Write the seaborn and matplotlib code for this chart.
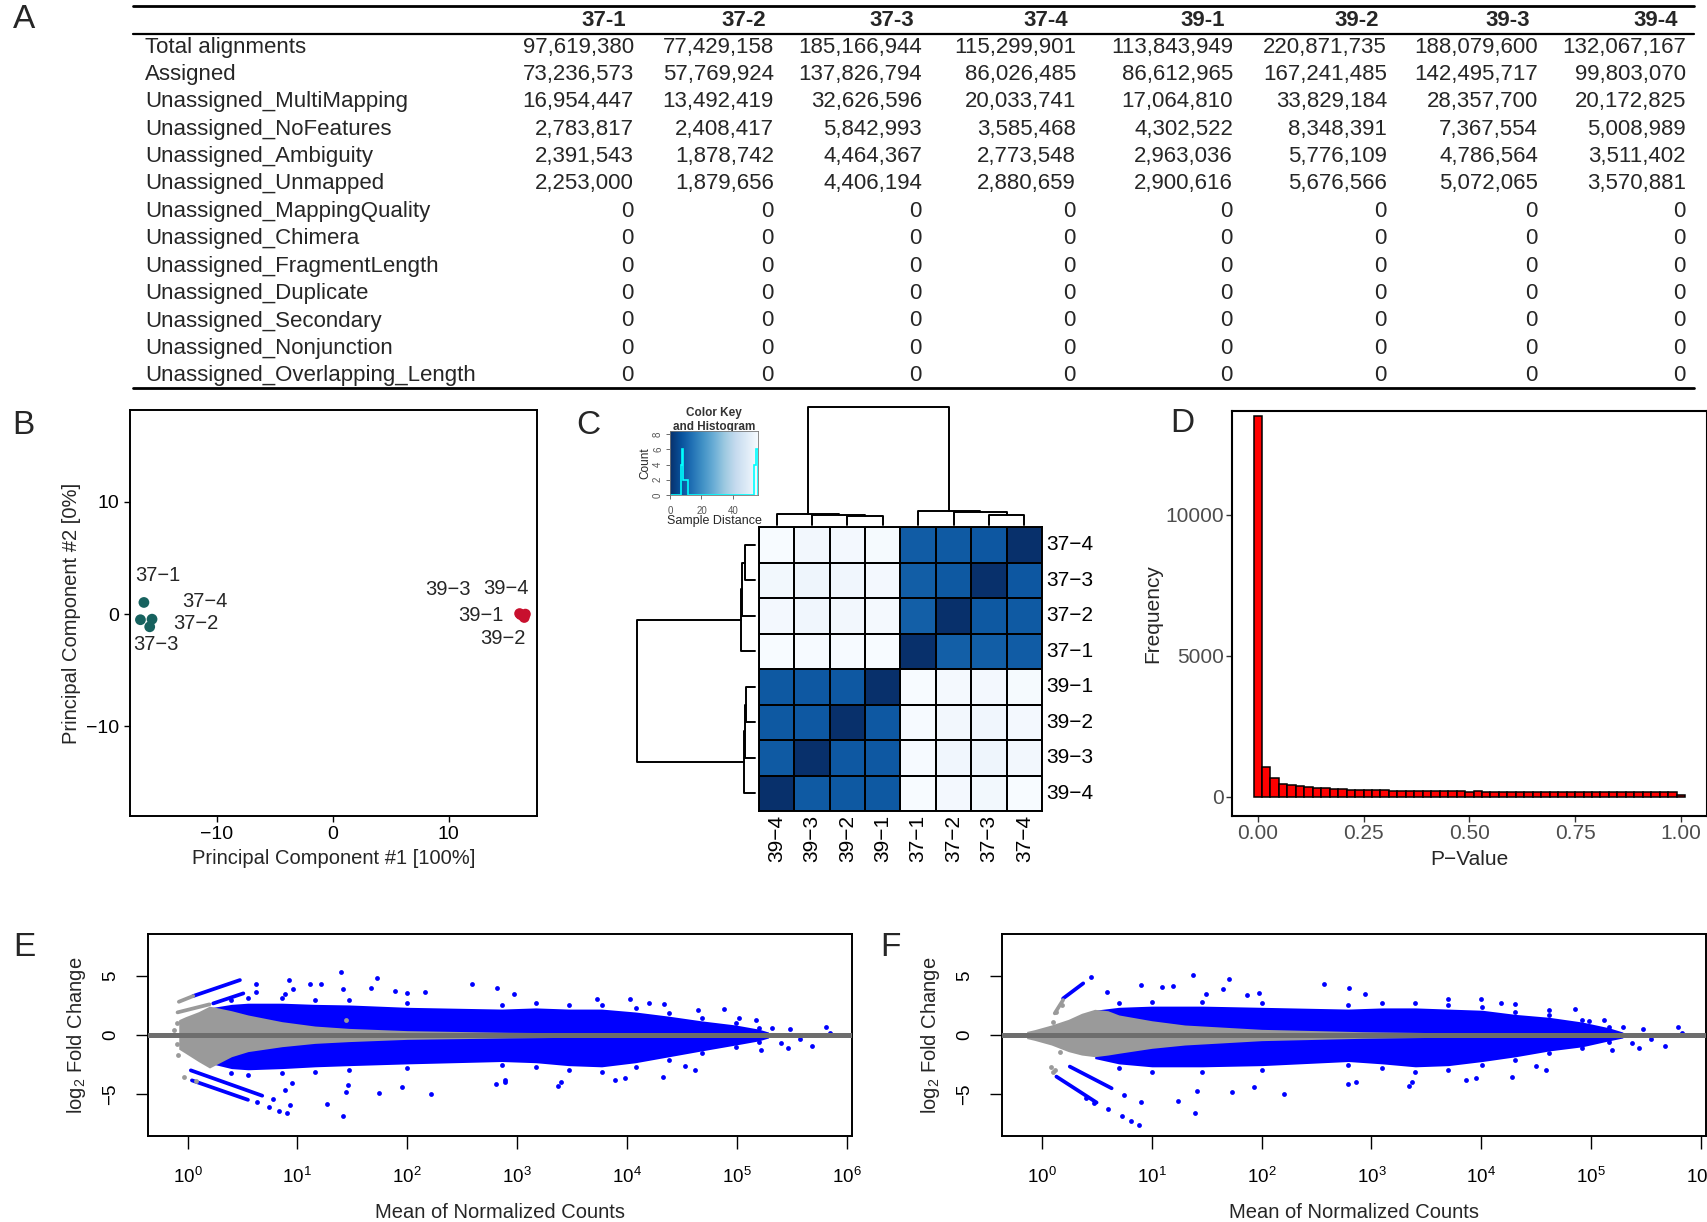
import numpy as np
import pandas as pd
import seaborn as sns
import matplotlib.pyplot as plt
from matplotlib.ticker import NullLocator

# ---------------- data ----------------
# A: featureCounts summary
row_names = ['Total alignments', 'Assigned', 'Unassigned_MultiMapping', 'Unassigned_NoFeatures',
             'Unassigned_Ambiguity', 'Unassigned_Unmapped', 'Unassigned_MappingQuality',
             'Unassigned_Chimera', 'Unassigned_FragmentLength', 'Unassigned_Duplicate',
             'Unassigned_Secondary', 'Unassigned_Nonjunction', 'Unassigned_Overlapping_Length']
samples = ['37-1', '37-2', '37-3', '37-4', '39-1', '39-2', '39-3', '39-4']
zero_rows = [0, 0, 0, 0, 0, 0, 0]
reads_37_1 = [97619380, 73236573, 16954447, 2783817, 2391543, 2253000] + zero_rows
reads_37_2 = [77429158, 57769924, 13492419, 2408417, 1878742, 1879656] + zero_rows
reads_37_3 = [185166944, 137826794, 32626596, 5842993, 4464367, 4406194] + zero_rows
reads_37_4 = [115299901, 86026485, 20033741, 3585468, 2773548, 2880659] + zero_rows
reads_39_1 = [113843949, 86612965, 17064810, 4302522, 2963036, 2900616] + zero_rows
reads_39_2 = [220871735, 167241485, 33829184, 8348391, 5776109, 5676566] + zero_rows
reads_39_3 = [188079600, 142495717, 28357700, 7367554, 4786564, 5072065] + zero_rows
reads_39_4 = [132067167, 99803070, 20172825, 5008989, 3511402, 3570881] + zero_rows
table = pd.DataFrame(dict(zip(samples, [reads_37_1, reads_37_2, reads_37_3, reads_37_4,
                                        reads_39_1, reads_39_2, reads_39_3, reads_39_4])),
                     index=row_names)

# B: PCA
pc1 = [-16.3, -15.8, -16.6, -15.6, 16.2, 16.5, 16.1, 16.6]
pc2 = [1.04, -1.13, -0.5, -0.45, -0.05, -0.3, 0.05, 0.0]
temp_group = ['37', '37', '37', '37', '39', '39', '39', '39']

# C: sample distances
dist_37 = [[0, 10.2, 10.0, 9.5],
           [10.2, 0, 8.8, 9.0],
           [10.0, 8.8, 0, 8.5],
           [9.5, 9.0, 8.5, 0]]
dist_39 = [[0, 8.6, 8.7, 8.8],
           [8.6, 0, 8.7, 8.9],
           [8.7, 8.7, 0, 9.0],
           [8.8, 8.9, 9.0, 0]]
dist_cross = [[55.9, 55.6, 55.5, 55.7],   # 37-1 vs 39-1..39-4
              [55.0, 54.2, 53.8, 54.8],
              [54.8, 53.8, 53.4, 54.5],
              [55.4, 54.6, 54.3, 55.9]]
row_order = ['37-4', '37-3', '37-2', '37-1', '39-1', '39-2', '39-3', '39-4']
col_order = ['39-4', '39-3', '39-2', '39-1', '37-1', '37-2', '37-3', '37-4']
# dendrogram merges: (left, right, height); mK is the K-th merge
dendro_merges = [('39-2', '39-1', 27.5), ('39-3', 'm0', 30), ('39-4', 'm1', 32),
                 ('37-3', '37-4', 30.5), ('37-2', 'm3', 37.5), ('37-1', 'm4', 42.5),
                 ('m2', 'm5', 353)]
key_edges = [0, 6.7, 7.6, 8.2, 11.2, 53.3, 54.7, 55.8]
key_counts = [0, 4, 6, 2, 0, 4, 6]

# D: p-value histogram (binwidth 0.02, centred on 0)
pvalue_counts = [13490, 1040, 675, 440, 415, 380, 330, 320, 295, 285, 260, 250, 250, 250, 235,
                 225, 200, 215, 200, 200, 200, 215, 200, 200, 190, 180, 190, 180, 180, 165,
                 180, 165, 180, 165, 170, 170, 170, 165, 155, 165, 170, 155, 170, 170, 165,
                 165, 160, 165, 165, 160, 70]

# E: MA plot 1 (x = log10 mean count)
e_gray_x = [-0.08, -0.02, 0.10, 0.20, 0.40, 0.55, 0.86, 1.16, 1.47, 2.0, 2.92, 4.0, 5.0, 5.9]
e_gray_hi = [1.3, 1.55, 1.98, 2.45, 2.06, 1.7, 1.13, 0.76, 0.56, 0.37, 0.23, 0.15, 0.12, 0.1]
e_gray_lo = [-1.2, -1.55, -2.26, -2.8, -1.84, -1.41, -0.99, -0.71, -0.56, -0.37, -0.25, -0.15, -0.12, -0.1]
e_blue_x = [0.20, 0.40, 0.55, 0.86, 1.16, 1.47, 2.0, 2.86, 3.17, 3.47, 3.77, 4.08, 4.38, 4.68, 4.99, 5.2, 5.29]
e_blue_hi = [2.3, 2.6, 2.7, 2.7, 2.6, 2.55, 2.35, 2.2, 2.3, 2.2, 2.2, 1.95, 1.6, 1.2, 0.85, 0.5, 0.25]
e_blue_lo = [-2.4, -2.85, -2.95, -2.85, -2.7, -2.6, -2.45, -2.25, -2.35, -2.6, -2.7, -2.35, -1.85,
             -1.35, -0.85, -0.5, -0.25]
e_up_x = [1.398, 1.726, 0.924, 1.213, 2.59, 0.62, 1.116, 2.818, 1.413, 1.672, 0.957, 0.623, 1.89, 0.888, 2.0, 2.16]
e_up_y = [5.31, 4.86, 4.69, 4.32, 4.29, 4.32, 4.32, 4.01, 3.87, 3.95, 3.87, 3.62, 3.76, 3.45, 3.53, 3.67]
e_down_x = [1.413, 1.267, 0.903, 0.833, 0.745, 0.629, 2.219, 1.745, 1.441, 1.951, 2.81, 0.933, 0.781,
            0.888, 0.948, 1.465, 2.888]
e_down_y = [-6.89, -5.85, -6.64, -6.41, -6.07, -5.68, -5.0, -4.89, -4.83, -4.43, -4.15, -5.93, -5.42,
            -4.66, -4.1, -4.24, -3.81]
e_right_x = [2.97, 4.025, 3.73, 4.88, 4.65, 4.2, 4.34, 5.02, 5.18, 5.32, 5.49, 5.81, 5.85, 5.4, 5.47,
             5.58, 5.69, 5.22, 4.53, 4.62, 3.37, 3.4, 2.89, 3.89, 4.33, 3.98]
e_right_y = [3.47, 3.08, 3.08, 2.23, 2.15, 2.68, 2.6, 1.41, 1.27, 0.62, 0.54, 0.65, 0.2, -0.71, -1.13,
             -0.37, -0.9, -1.27, -2.63, -2.97, -4.29, -3.95, -3.95, -3.81, -3.53, -3.67]
e_edge_x = [0.40, 0.55, 0.86, 1.16, 1.47, 2.0, 2.86, 3.17, 3.47, 3.77, 4.08, 4.38, 4.68, 4.99, 5.2]
e_edge_hi = [2.97, 3.1, 3.1, 2.97, 2.97, 2.68, 2.54, 2.68, 2.54, 2.54, 2.26, 1.84, 1.41, 0.99, 0.56]
e_edge_lo = [-3.25, -3.39, -3.25, -3.1, -2.97, -2.82, -2.54, -2.68, -2.97, -3.1, -2.68, -2.12, -1.55, -0.99, -0.56]
e_grayout_x = [-0.10, -0.12, -0.10, -0.09, -0.03, 1.44, 0.08, -0.055]
e_grayout_y = [1.0, 0.4, -0.8, -1.7, -3.53, 1.3, -3.9, 1.13]
e_blue_stripes = [(0.052, 0.477, 3.31, 4.66), (0.234, 0.508, 2.68, 3.53),
                  (0.03, 0.68, -3.0, -5.15), (0.04, 0.55, -3.85, -5.5)]
e_gray_stripes = [(-0.079, 0.052, 2.82, 3.31), (-0.091, 0.2, 1.92, 2.6)]

# F: MA plot 2
f_gray_x = [-0.14, -0.07, 0.085, 0.24, 0.36, 0.48, 0.6, 0.7, 1.0, 1.3, 2.0, 2.92, 4.0, 5.0, 5.9]
f_gray_hi = [0.3, 0.45, 0.85, 1.33, 1.84, 2.18, 2.06, 1.7, 1.21, 0.85, 0.48, 0.28, 0.15, 0.12, 0.1]
f_gray_lo = [-0.3, -0.45, -0.85, -1.41, -1.7, -1.84, -1.7, -1.55, -1.13, -0.85, -0.48, -0.28, -0.15, -0.12, -0.1]
f_blue_x = [0.48, 0.7, 1.0, 1.46, 2.0, 2.79, 3.1, 3.4, 3.7, 4.01, 4.31, 4.62, 4.92, 5.16, 5.29]
f_blue_hi = [2.1, 2.35, 2.45, 2.45, 2.35, 2.2, 2.3, 2.3, 2.2, 2.1, 1.75, 1.5, 1.1, 0.62, 0.25]
f_blue_lo = [-2.0, -2.45, -2.7, -2.7, -2.6, -2.25, -2.45, -2.7, -2.6, -2.25, -1.85, -1.35, -1.0, -0.5, -0.25]
f_up_x = [0.445, 1.372, 1.704, 0.902, 2.57, 2.8, 1.19, 1.09, 0.595, 1.65, 1.49, 1.87, 1.98]
f_up_y = [4.92, 5.11, 4.75, 4.24, 4.29, 4.01, 4.12, 4.04, 3.62, 3.9, 3.47, 3.36, 3.53]
f_down_x = [0.884, 0.811, 0.726, 0.604, 1.39, 1.238, 0.902, 2.2, 1.726, 1.415, 1.93, 2.79, 0.75, 0.476, 0.405]
f_down_y = [-7.63, -7.32, -6.86, -6.3, -6.64, -5.59, -5.71, -4.97, -4.83, -4.72, -4.38, -4.12, -5.08, -5.73, -5.37]
f_right_x = [2.94, 3.7, 4.0, 4.18, 4.31, 4.62, 4.85, 4.98, 5.12, 5.29, 5.47, 5.79, 5.83, 5.37, 5.44,
             5.55, 5.67, 5.19, 4.5, 4.59, 3.34, 3.37, 2.86, 3.86, 4.28, 3.95]
f_right_y = [3.47, 3.08, 3.08, 2.68, 2.6, 2.15, 2.23, 1.21, 1.27, 0.65, 0.54, 0.65, 0.2, -0.71, -1.13,
             -0.37, -0.9, -1.27, -2.63, -2.97, -4.29, -3.95, -3.95, -3.81, -3.53, -3.67]
f_edge_x = [0.7, 1.0, 1.46, 2.0, 2.79, 3.1, 3.4, 3.7, 4.01, 4.31, 4.62, 4.92, 5.16]
f_edge_hi = [2.68, 2.82, 2.82, 2.68, 2.54, 2.68, 2.68, 2.54, 2.4, 1.98, 1.7, 1.27, 0.71]
f_edge_lo = [-2.82, -3.1, -3.1, -2.97, -2.54, -2.82, -3.1, -2.97, -2.54, -2.12, -1.55, -1.13, -0.56]
f_grayout_x = [0.13, 0.18, 0.10, 0.085, 0.10, 0.16, 0.116]
f_grayout_y = [1.98, 2.54, 1.13, -2.68, -3.1, -1.41, -2.97]
f_blue_stripes = [(0.192, 0.375, 3.1, 4.38), (0.131, 0.497, -3.53, -5.73), (0.253, 0.634, -2.68, -4.52)]
f_gray_stripes = [(0.116, 0.192, 1.84, 2.97)]

# ---------------- style ----------------
sns.set_theme(style='white')
plt.rcParams['font.family'] = ['Liberation Sans', 'DejaVu Sans']
plt.rcParams['mathtext.default'] = 'regular'
plt.rcParams['axes.unicode_minus'] = True

W, H = 1708, 1222
fig = plt.figure(figsize=(W / 100, H / 100), dpi=100)


def box(l, t, r, b):
    return [l / W, 1 - b / H, (r - l) / W, (b - t) / H]


MINUS = '\u2212'
lay = fig.add_axes([0, 0, 1, 1], zorder=-1)
lay.set_xlim(0, W)
lay.set_ylim(H, 0)
lay.axis('off')

# panel letters
for letter, x, y in [('A', 24, 20), ('B', 23, 425), ('C', 588, 425), ('D', 1182, 423),
                     ('E', 24, 947), ('F', 890, 947)]:
    lay.text(x, y, letter, fontsize=24, ha='center', va='center')

# ---------------- A: table ----------------
col_right = [634, 774, 922, 1076, 1233, 1387, 1538, 1686]
lay.plot([133, 1694], [5.5, 5.5], color='black', lw=2)
lay.plot([133, 1694], [33.5, 33.5], color='black', lw=1.6)
lay.plot([133, 1694], [388, 388], color='black', lw=2)
for s, xr in zip(samples, col_right):
    lay.text(xr - 8, 20, s, fontsize=16, fontweight='bold', ha='right', va='center')
for i, name in enumerate(row_names):
    y = 47 + i * 27.4
    lay.text(145, y, name, fontsize=16, ha='left', va='center')
    for s, xr in zip(samples, col_right):
        lay.text(xr, y, f'{table.loc[name, s]:,}', fontsize=16, ha='right', va='center')

# ---------------- B: PCA ----------------
axB = fig.add_axes(box(130, 410, 537, 816))
pca = pd.DataFrame({'pc1': pc1, 'pc2': pc2, 'group': temp_group})
sns.scatterplot(data=pca, x='pc1', y='pc2', hue='group', palette={'37': '#17625F', '39': '#C8102E'},
                s=60, linewidth=0, legend=False, ax=axB, zorder=3)
label_pos = {'37-1': (-15.1, 3.4), '37-4': (-11.0, 1.1), '37-2': (-11.8, -0.85), '37-3': (-15.3, -2.7),
             '39-3': (9.95, 2.2), '39-4': (14.9, 2.25), '39-1': (12.8, -0.15), '39-2': (14.7, -2.15)}
for s, (x, y) in label_pos.items():
    axB.text(x, y, s.replace('-', MINUS), fontsize=14.5, ha='center', va='center')
axB.set_xlim(-17.5, 17.6)
axB.set_ylim(-18.0, 18.2)
axB.set_xticks([-10, 0, 10])
axB.set_yticks([-10, 0, 10])
axB.tick_params(labelsize=14, length=4, width=1, colors='black', direction='out',
                bottom=True, left=True)
axB.set_xlabel('Principal Component #1 [100%]', fontsize=14.5, labelpad=4)
axB.set_ylabel('Principal Component #2 [0%]', fontsize=14.5, labelpad=4)
for sp in axB.spines.values():
    sp.set_linewidth(1.4)
    sp.set_color('black')

# ---------------- C: distance heatmap ----------------
full = np.block([[np.array(dist_37), np.array(dist_cross)],
                 [np.array(dist_cross).T, np.array(dist_39)]])
dist = pd.DataFrame(full, index=samples, columns=samples)
hm = dist.loc[row_order, col_order]
axC = fig.add_axes(box(759, 527, 1042, 811))
sns.heatmap(hm, cmap='Blues_r', vmin=0, vmax=55.9, cbar=False, linewidths=1.4, linecolor='black',
            xticklabels=[c.replace('-', MINUS) for c in col_order],
            yticklabels=[r.replace('-', MINUS) for r in row_order], ax=axC)
axC.yaxis.tick_right()
axC.tick_params(length=0, labelsize=15, colors='black', pad=3)
plt.setp(axC.get_yticklabels(), rotation=0, va='center')
plt.setp(axC.get_xticklabels(), rotation=90, va='top', ha='center')
axC.set_xlabel('')
axC.set_ylabel('')
for sp in axC.spines.values():
    sp.set_visible(True)
    sp.set_linewidth(1.4)
    sp.set_color('black')


def draw_dendro(ax, order, merges, orient):
    pos = {name: i + 0.5 for i, name in enumerate(order)}
    ht = {name: 0 for name in order}
    for k, (a, b, h) in enumerate(merges):
        p = [pos[a], pos[a], pos[b], pos[b]]
        hh = [ht[a], h, h, ht[b]]
        if orient == 'top':
            ax.plot(p, hh, color='black', lw=1.4, clip_on=False)
        else:
            ax.plot(hh, p, color='black', lw=1.4, clip_on=False)
        pos[f'm{k}'] = (pos[a] + pos[b]) / 2
        ht[f'm{k}'] = h


axTop = fig.add_axes(box(759, 407, 1042, 525))
draw_dendro(axTop, col_order, dendro_merges, 'top')
axTop.set_xlim(0, 8)
axTop.set_ylim(0, 353)
axTop.axis('off')

axLeft = fig.add_axes(box(637, 527, 755, 811))
draw_dendro(axLeft, row_order, dendro_merges, 'left')
axLeft.set_xlim(353, 0)
axLeft.set_ylim(8, 0)
axLeft.axis('off')

axKey = fig.add_axes(box(670, 431, 758, 495))
axKey.imshow(np.linspace(0, 55.9, 256)[None, :], extent=[0, 55.9, 0, 8.4], aspect='auto',
             cmap='Blues_r', vmin=0, vmax=55.9)
axKey.stairs(key_counts, key_edges, color='#00FFFF', lw=1.2)
axKey.set_xlim(0, 55.9)
axKey.set_ylim(0, 8.4)
axKey.set_xticks([0, 20, 40])
axKey.set_yticks([0, 2, 4, 6, 8])
axKey.tick_params(labelsize=7, length=3, width=0.6, colors='#555555', pad=5,
                  bottom=True, left=True)
axKey.tick_params(axis='y', pad=2)
plt.setp(axKey.get_yticklabels(), rotation=90, va='center')
axKey.set_xlabel('Sample Distance', fontsize=9, labelpad=-1)
axKey.set_ylabel('Count', fontsize=8.5, labelpad=1)
for sp in axKey.spines.values():
    sp.set_linewidth(0.6)
    sp.set_color('#777777')
lay.text(714, 413, 'Color Key', fontsize=8.5, fontweight='bold', ha='center', va='center', color='#333333')
lay.text(714, 427, 'and Histogram', fontsize=8.5, fontweight='bold', ha='center', va='center',
         color='#333333', zorder=5)

# ---------------- D: p-value histogram ----------------
axD = fig.add_axes(box(1232, 411, 1706.6, 816))
pv = pd.DataFrame({'p': [round(0.02 * i, 2) for i in range(len(pvalue_counts))], 'n': pvalue_counts})
sns.histplot(data=pv, x='p', weights='n', binwidth=0.02, binrange=(-0.01, 1.01), color='#FF0000',
             alpha=1, edgecolor='black', linewidth=1.1, ax=axD)
axD.set_xlim(-0.061, 1.061)
axD.set_ylim(-680, 13670)
axD.set_xticks([0, 0.25, 0.5, 0.75, 1.0])
axD.set_xticklabels(['0.00', '0.25', '0.50', '0.75', '1.00'])
axD.set_yticks([0, 5000, 10000])
axD.set_yticklabels(['0', '5000', '10000'])
axD.tick_params(labelsize=15, length=4, width=1, direction='out', labelcolor='#4D4D4D',
                color='#333333', bottom=True, left=True, pad=2)
axD.set_xlabel('P\u2212Value', fontsize=15, labelpad=5)
axD.set_ylabel('Frequency', fontsize=15, labelpad=2)
for sp in axD.spines.values():
    sp.set_linewidth(1.5)
    sp.set_color('black')


# ---------------- E / F: MA plots ----------------
def draw_ma(ax, gx, ghi, glo, bx, bhi, blo, out_x, out_y, gout_x, gout_y, bstripes, gstripes):
    ax.fill_between(10 ** np.array(bx), blo, bhi, color='#0000FF', lw=0, zorder=1)
    ax.fill_between(10 ** np.array(gx), glo, ghi, color='#9A9A9A', lw=0, zorder=2)
    for x0, x1, y0, y1 in bstripes:
        ax.plot(10 ** np.array([x0, x1]), [y0, y1], color='#0000FF', lw=2.7,
                solid_capstyle='round', zorder=3)
    for x0, x1, y0, y1 in gstripes:
        ax.plot(10 ** np.array([x0, x1]), [y0, y1], color='#9A9A9A', lw=2.7,
                solid_capstyle='round', zorder=3)
    pts = pd.DataFrame({'x': 10 ** np.array(out_x), 'y': out_y})
    gpts = pd.DataFrame({'x': 10 ** np.array(gout_x), 'y': gout_y})
    sns.scatterplot(data=pts, x='x', y='y', color='#0000FF', s=12, linewidth=0, ax=ax, zorder=3)
    sns.scatterplot(data=gpts, x='x', y='y', color='#9A9A9A', s=12, linewidth=0, ax=ax, zorder=3)
    ax.axhline(0, color='#6E6E6E', lw=3.6, zorder=4)
    ax.set_xscale('log')
    ax.set_xlim(10 ** -0.36, 10 ** 6.05)
    ax.set_ylim(-8.57, 8.57)
    ax.set_xticks([10 ** k for k in range(7)])
    ax.set_xticklabels([f'$10^{{{k}}}$' for k in range(7)])
    ax.xaxis.set_minor_locator(NullLocator())
    ax.set_yticks([-5, 0, 5])
    ax.set_yticklabels([MINUS + '5', '0', '5'])
    plt.setp(ax.get_yticklabels(), rotation=90, va='center')
    ax.tick_params(labelsize=13.5, length=9, width=1, direction='out', colors='black',
                   bottom=True, left=True)
    ax.tick_params(axis='x', pad=13)
    ax.tick_params(axis='y', pad=12)
    ax.set_xlabel('Mean of Normalized Counts', fontsize=14.5, labelpad=12)
    ax.set_ylabel('log$_2$ Fold Change', fontsize=14.5, labelpad=10)
    for sp in ax.spines.values():
        sp.set_linewidth(1.4)
        sp.set_color('black')


axE = fig.add_axes(box(148, 934, 852, 1136))
draw_ma(axE, e_gray_x, e_gray_hi, e_gray_lo, e_blue_x, e_blue_hi, e_blue_lo,
        e_up_x + e_down_x + e_right_x + e_edge_x + e_edge_x,
        e_up_y + e_down_y + e_right_y + e_edge_hi + e_edge_lo,
        e_grayout_x, e_grayout_y, e_blue_stripes, e_gray_stripes)

axF = fig.add_axes(box(1002.5, 934, 1706.3, 1136))
draw_ma(axF, f_gray_x, f_gray_hi, f_gray_lo, f_blue_x, f_blue_hi, f_blue_lo,
        f_up_x + f_down_x + f_right_x + f_edge_x + f_edge_x,
        f_up_y + f_down_y + f_right_y + f_edge_hi + f_edge_lo,
        f_grayout_x, f_grayout_y, f_blue_stripes, f_gray_stripes)

fig.savefig('out.png', dpi=100)
